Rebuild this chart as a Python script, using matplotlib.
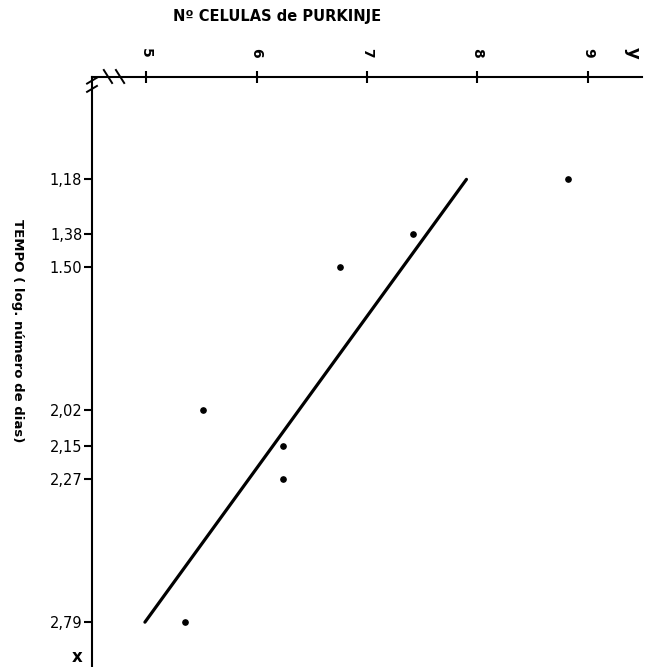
import matplotlib.pyplot as plt

# tempo (log numero de dias) and Purkinje cell counts
tempo = [1.18, 1.38, 1.50, 2.02, 2.15, 2.27, 2.79]
celulas = [8.82, 7.42, 6.76, 5.52, 6.24, 6.24, 5.35]

# regression line, end points
fit_tempo = [1.18, 2.79]
fit_celulas = [7.90, 4.99]

cel_ticks = [5, 6, 7, 8, 9]
tempo_labels = ['1,18', '1,38', '1.50', '2,02', '2,15', '2,27', '2,79']

fig = plt.figure(figsize=(6.45, 6.67), dpi=100)
ax = fig.add_axes([92 / 645, 0, 550 / 645, 1 - 76.5 / 667])

ax.plot(fit_celulas, fit_tempo, color='black', linewidth=2.3, solid_capstyle='round')
ax.plot(celulas, tempo, 'o', color='black', markersize=3.8)

ax.set_xlim(4.511, 9.489)
ax.set_ylim(2.953, 0.806)

ax.spines['right'].set_visible(False)
ax.spines['bottom'].set_visible(False)
ax.spines['top'].set_linewidth(1.5)
ax.spines['left'].set_linewidth(1.5)

ax.xaxis.tick_top()
ax.set_xticks(cel_ticks)
ax.set_xticklabels([str(t) for t in cel_ticks], rotation=-90, fontsize=10, fontweight='bold')
ax.tick_params(axis='x', direction='inout', length=9, width=1.5, pad=9)

ax.set_yticks(tempo)
ax.set_yticklabels(tempo_labels, fontsize=10.5)
ax.tick_params(axis='y', direction='out', length=6, width=1.5, pad=1)

# axis break marks near the corner
for xf in [0.029, 0.051]:
    ax.plot([xf - 0.0075, xf + 0.0075], [1.011, 0.989], transform=ax.transAxes,
            color='black', linewidth=1.4, clip_on=False)
for yf in [0.993, 0.979]:
    ax.plot([-0.009, 0.009], [yf - 0.005, yf + 0.005], transform=ax.transAxes,
            color='black', linewidth=1.4, clip_on=False)

fig.text(277 / 645, 1 - 17 / 667, 'Nº CELULAS de PURKINJE', ha='center', va='center',
         fontsize=10.5, fontweight='bold')
fig.text(17 / 645, 1 - 331 / 667, 'TEMPO ( log. número de dias)', ha='center', va='center',
         rotation=-90, fontsize=9.5, fontweight='bold')
fig.text(633 / 645, 1 - 53 / 667, 'y', ha='center', va='center', rotation=-90,
         fontsize=13, fontweight='bold')
fig.text(77 / 645, 1 - 657 / 667, 'x', ha='center', va='center', fontsize=12, fontweight='bold')

plt.savefig('out.png', dpi=100, facecolor='white')
plt.close()
